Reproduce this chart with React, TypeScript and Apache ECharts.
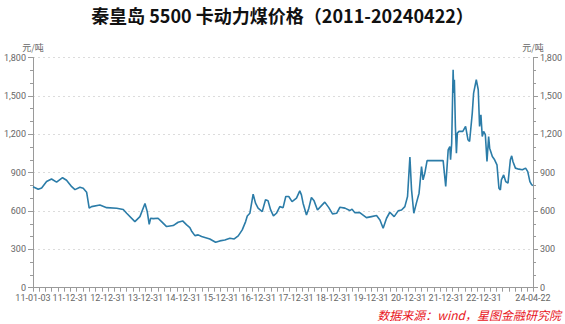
import React, { useEffect, useRef } from 'react';
import * as echarts from 'echarts';

const titleText = '秦皇岛 5500 卡动力煤价格（2011-20240422）';
const sourceText = '数据来源：wind，星图金融研究院';
const unitName = '元/吨';

const dates = [
  '2011-01-03', '2011-02-23', '2011-03-28', '2011-05-15', '2011-07-02', '2011-08-20', '2011-10-17', '2011-11-25',
  '2012-01-14', '2012-02-15', '2012-04-03', '2012-05-05', '2012-06-07', '2012-07-02', '2012-07-25', '2012-10-14', '2012-12-19',
  '2013-03-26', '2013-05-29', '2013-07-01', '2013-09-19', '2013-11-07', '2013-12-26',
  '2014-01-17', '2014-02-05', '2014-02-19', '2014-03-16', '2014-05-02', '2014-06-05', '2014-07-24', '2014-09-26', '2014-11-13', '2014-12-27',
  '2015-02-04', '2015-03-07', '2015-03-23', '2015-04-25', '2015-05-27', '2015-06-29', '2015-09-17', '2015-11-12', '2015-12-23',
  '2016-02-10', '2016-03-30', '2016-05-11', '2016-06-19', '2016-07-28', '2016-08-30', '2016-09-15', '2016-10-10', '2016-11-11', '2016-12-04', '2016-12-29',
  '2017-02-07', '2017-03-11', '2017-04-05', '2017-04-30', '2017-05-27', '2017-06-25', '2017-07-28', '2017-08-29', '2017-09-24', '2017-10-23', '2017-11-24',
  '2018-01-06', '2018-02-07', '2018-02-23', '2018-03-11', '2018-04-13', '2018-05-06', '2018-05-31', '2018-06-26', '2018-07-29', '2018-09-06', '2018-10-08', '2018-11-16', '2018-12-22',
  '2019-01-31', '2019-03-04', '2019-04-22', '2019-06-08', '2019-06-30', '2019-07-26', '2019-09-13', '2019-11-17',
  '2020-01-05', '2020-02-23', '2020-03-27', '2020-04-27', '2020-05-30', '2020-07-01', '2020-08-12', '2020-09-20', '2020-10-23', '2020-11-24', '2020-12-20',
  '2021-01-12', '2021-01-28', '2021-02-19', '2021-03-16', '2021-04-11', '2021-05-05', '2021-05-20', '2021-06-06', '2021-06-28', '2021-12-01', '2021-12-26',
  '2022-01-19', '2022-02-04', '2022-02-11', '2022-02-22', '2022-03-08', '2022-03-14', '2022-03-20', '2022-03-30', '2022-04-09', '2022-04-18', '2022-05-04', '2022-06-10', '2022-07-07', '2022-07-30', '2022-08-15', '2022-09-10', '2022-09-23', '2022-10-19', '2022-11-07', '2022-11-20', '2022-12-03', '2022-12-16', '2022-12-29',
  '2023-01-15', '2023-01-31', '2023-02-16', '2023-02-26', '2023-03-24', '2023-04-15', '2023-05-08', '2023-05-27', '2023-06-10', '2023-06-20', '2023-07-12', '2023-08-01', '2023-08-23', '2023-09-15', '2023-09-28', '2023-10-10', '2023-11-03', '2023-12-07',
  '2024-01-10', '2024-02-10', '2024-03-02', '2024-03-23', '2024-04-10', '2024-04-22',
];

const prices = [
  790, 770, 780, 830, 850, 825, 860, 840,
  790, 767, 786, 778, 747, 622, 634, 647, 626,
  621, 611, 582, 517, 556, 658,
  595, 496, 543, 540, 543, 517, 478, 486, 512, 522,
  491, 470, 444, 407, 413, 400, 381, 355, 366,
  373, 387, 381, 405, 452, 517, 561, 582, 731, 661, 622,
  595, 687, 679, 608, 561, 582, 634, 626, 713, 713, 673,
  700, 757, 726, 661, 569, 622, 705, 679, 608, 642, 669, 626, 577,
  582, 629, 622, 603, 614, 587, 587, 548,
  556, 564, 530, 465, 543, 590, 556, 601, 608, 634, 713,
  1021, 765, 582, 661, 739, 947, 843, 896, 994, 994, 791,
  1078, 1104, 1000, 1130, 1705, 1522, 1626, 1261, 1052, 1209, 1222, 1222, 1261, 1157, 1143, 1365, 1522, 1626, 1548, 1261, 1352, 1182, 1222,
  1196, 987, 1182, 1091, 1026, 1000, 961, 778, 765, 843, 882, 830, 817, 1000, 1031, 987, 935, 927,
  922, 935, 908, 830, 804, 800,
];

const labelDates = [
  '2011-01-03', '2011-12-31', '2012-12-31', '2013-12-31', '2014-12-31', '2015-12-31', '2016-12-31',
  '2017-12-31', '2018-12-31', '2019-12-31', '2020-12-31', '2021-12-31', '2022-12-31', '2024-04-22',
];

const yMin = 0;
const yMax = 1800;
const yStep = 300;

function toTs(s: string): number {
  const [y, m, d] = s.split('-').map(Number);
  return new Date(y, m - 1, d).getTime();
}

function pad(n: number): string {
  return String(n).padStart(2, '0');
}

function fmtDate(v: number): string {
  const d = new Date(v);
  return `${pad(d.getFullYear() % 100)}-${pad(d.getMonth() + 1)}-${pad(d.getDate())}`;
}

function buildTicks(): number[] {
  const first = toTs(labelDates[0]);
  const last = toTs(labelDates[labelDates.length - 1]);
  const ticks: number[] = [first];
  for (let y = 2011; y <= 2024; y++) {
    for (let m = 2; m <= 12; m += 2) {
      const t = m === 12 ? new Date(y, 11, 31).getTime() : new Date(y, m, 1).getTime();
      if (t > first && t < last) ticks.push(t);
    }
  }
  ticks.push(last);
  return ticks;
}

export default function App() {
  const ref = useRef<HTMLDivElement>(null);

  useEffect(() => {
    if (!ref.current) return;
    const chart = echarts.init(ref.current, undefined, { renderer: 'svg' });
    const axisColor = '#9a9a9a';
    const labelColor = '#666';
    const yAxisBase = (pos: 'left' | 'right', grid: boolean) => ({
      type: 'value',
      position: pos,
      min: yMin,
      max: yMax,
      interval: yStep,
      name: unitName,
      nameGap: 6,
      nameTextStyle: { color: labelColor, fontSize: 9, fontFamily: 'Noto Sans CJK SC' },
      axisLine: { show: true, lineStyle: { color: axisColor, width: 1 } },
      axisTick: { show: true, length: 5, lineStyle: { color: axisColor } },
      minorTick: { show: true, splitNumber: 3, length: 3, lineStyle: { color: axisColor } },
      axisLabel: {
        color: labelColor,
        fontSize: 9,
        fontFamily: 'Roboto',
        margin: 7,
        formatter: (v: number) => v.toLocaleString('en-US'),
      },
      splitLine: {
        show: grid,
        lineStyle: { color: '#dcdcdc', type: [2, 3], width: 1 },
      },
    });

    chart.setOption({
      animation: false,
      backgroundColor: '#fff',
      title: [
        {
          text: titleText,
          left: 'center',
          top: 6,
          padding: 0,
          textStyle: { fontSize: 18, fontWeight: 'bold', color: '#111', fontFamily: 'Noto Sans CJK SC' },
        },
        {
          text: sourceText,
          right: 4,
          top: 308,
          padding: 0,
          textStyle: { fontSize: 12, fontWeight: 'normal', fontStyle: 'italic', color: '#e8141b', fontFamily: 'Noto Sans CJK SC' },
        },
      ],
      grid: { left: 33, right: 32, top: 57.5, bottom: 36.3, containLabel: false },
      xAxis: {
        type: 'value',
        min: toTs(labelDates[0]),
        max: toTs(labelDates[labelDates.length - 1]),
        axisLine: { show: true, lineStyle: { color: axisColor } },
        axisTick: { show: true, length: 4, customValues: buildTicks(), lineStyle: { color: axisColor } },
        axisLabel: {
          customValues: labelDates.map(toTs),
          formatter: (v: number) => fmtDate(v),
          color: labelColor,
          fontSize: 9,
          fontFamily: 'Roboto',
          margin: 6,
        },
        splitLine: { show: false },
        minorTick: { show: false },
      },
      yAxis: [yAxisBase('left', true), yAxisBase('right', false)],
      series: [
        {
          type: 'line',
          yAxisIndex: 0,
          showSymbol: false,
          symbol: 'none',
          data: dates.map((d, i) => [toTs(d), prices[i]]),
          lineStyle: { color: '#2b7ca8', width: 1.6 },
          itemStyle: { color: '#2b7ca8' },
        },
      ],
    });
    return () => chart.dispose();
  }, []);

  return (
    <div
      ref={ref}
      style={{ position: 'fixed', left: 0, top: 0, width: 565, height: 324, background: '#fff' }}
    />
  );
}
